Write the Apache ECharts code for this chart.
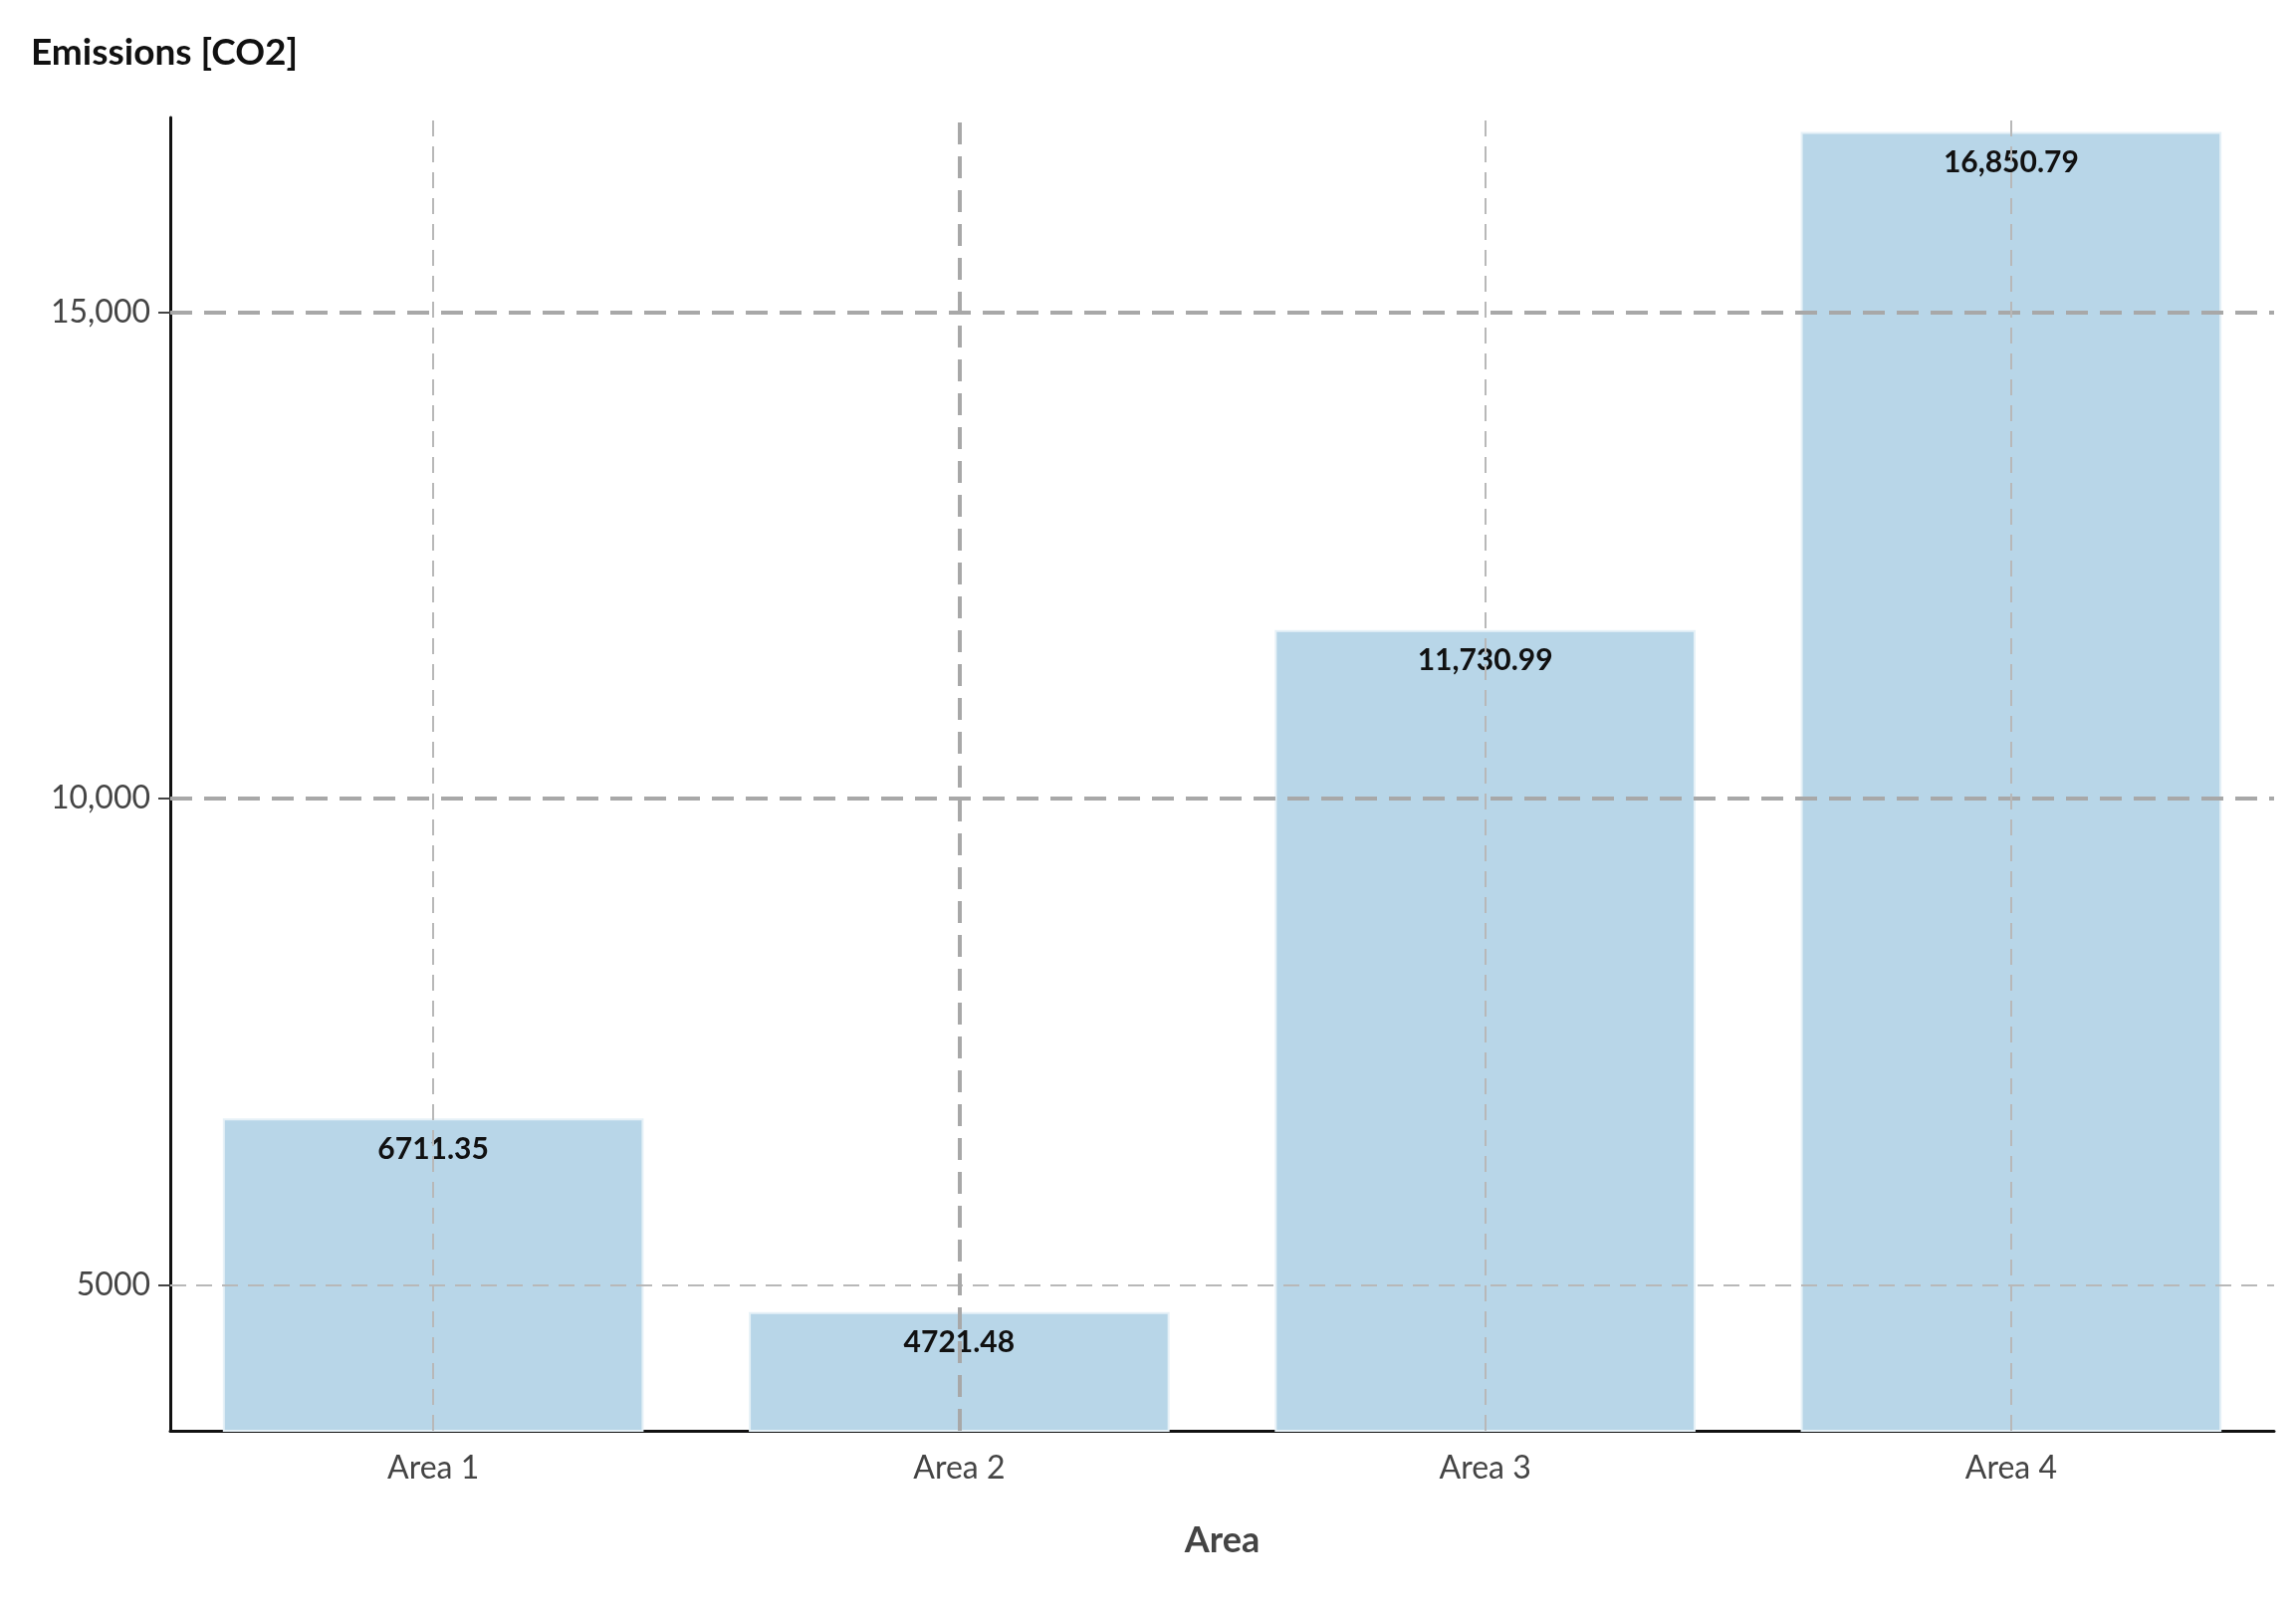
<!DOCTYPE html>
<html>
<head>
<meta charset="utf-8">
<script src="https://cdn.jsdelivr.net/npm/echarts@6/dist/echarts.min.js"></script>
<style>html,body{margin:0;padding:0;background:#fff}#chart{width:2306px;height:1619px}</style>
</head>
<body>
<div id="chart"></div>
<script>
var areas = ['Area 1', 'Area 2', 'Area 3', 'Area 4'];
var emissions = [6711.35, 4721.48, 11730.99, 16850.79];
var yTicks = [5000, 10000, 15000];

var font = 'Lato';

function fmt(v) {
    // values under 10k shown without separators, like the original
    if (v < 10000) return v.toFixed(2);
    return v.toLocaleString('en-US', {minimumFractionDigits: 2, maximumFractionDigits: 2});
}

var gridLines = [
    {yAxis: 15000, lineStyle: {color: '#a8a8a8', width: 4, type: [22, 12]}},
    {yAxis: 10000, lineStyle: {color: '#a8a8a8', width: 4, type: [22, 12]}},
    {yAxis: 5000, lineStyle: {color: '#b8b8b8', width: 2, type: [16, 10]}},
    {xAxis: 'Area 1', lineStyle: {color: '#b8b8b8', width: 2, type: [16, 10]}},
    {xAxis: 'Area 2', lineStyle: {color: '#a8a8a8', width: 4, type: [22, 12]}},
    {xAxis: 'Area 3', lineStyle: {color: '#b8b8b8', width: 2, type: [16, 10]}},
    {xAxis: 'Area 4', lineStyle: {color: '#b8b8b8', width: 2, type: [16, 10]}}
];

var option = {
    animation: false,
    textStyle: {fontFamily: font},
    title: {
        text: 'Emissions [CO2]',
        left: 26, top: 30,
        textStyle: {fontFamily: font, fontSize: 37, fontWeight: 'bold', color: '#111'}
    },
    grid: {left: 171, right: 22, top: 118, bottom: 182},
    xAxis: {
        type: 'category',
        data: areas,
        name: 'Area',
        nameLocation: 'middle',
        nameGap: 92,
        nameTextStyle: {fontFamily: font, fontSize: 36, fontWeight: 'bold', color: '#444'},
        axisLine: {lineStyle: {color: '#111', width: 3}},
        axisTick: {alignWithLabel: true, length: 12, lineStyle: {color: '#444', width: 2}},
        axisLabel: {fontSize: 32, color: '#444', margin: 22},
        splitLine: {show: false}
    },
    yAxis: {
        type: 'value',
        min: 3500,
        max: 17000,
        axisLine: {show: true, lineStyle: {color: '#111', width: 3}},
        axisTick: {show: true, customValues: yTicks, length: 12, lineStyle: {color: '#444', width: 2}},
        axisLabel: {customValues: yTicks, fontSize: 32, color: '#444', margin: 20,
            formatter: function (v) { return v < 10000 ? String(v) : v.toLocaleString('en-US'); }},
        splitLine: {show: false}
    },
    series: [{
        type: 'bar',
        data: emissions,
        barWidth: '80%',
        itemStyle: {color: '#b8d6e8', borderColor: '#e6f1f7', borderWidth: 2},
        label: {
            show: true,
            position: 'insideTop',
            distance: 16,
            fontFamily: font,
            fontSize: 30,
            fontWeight: 'bold',
            color: '#111',
            formatter: function (p) { return fmt(p.value); }
        },
        markLine: {
            silent: true,
            symbol: 'none',
            label: {show: false},
            data: gridLines
        }
    }]
};

var myChart = echarts.init(document.getElementById('chart'));
option && myChart.setOption(option);
</script>
</body>
</html>
